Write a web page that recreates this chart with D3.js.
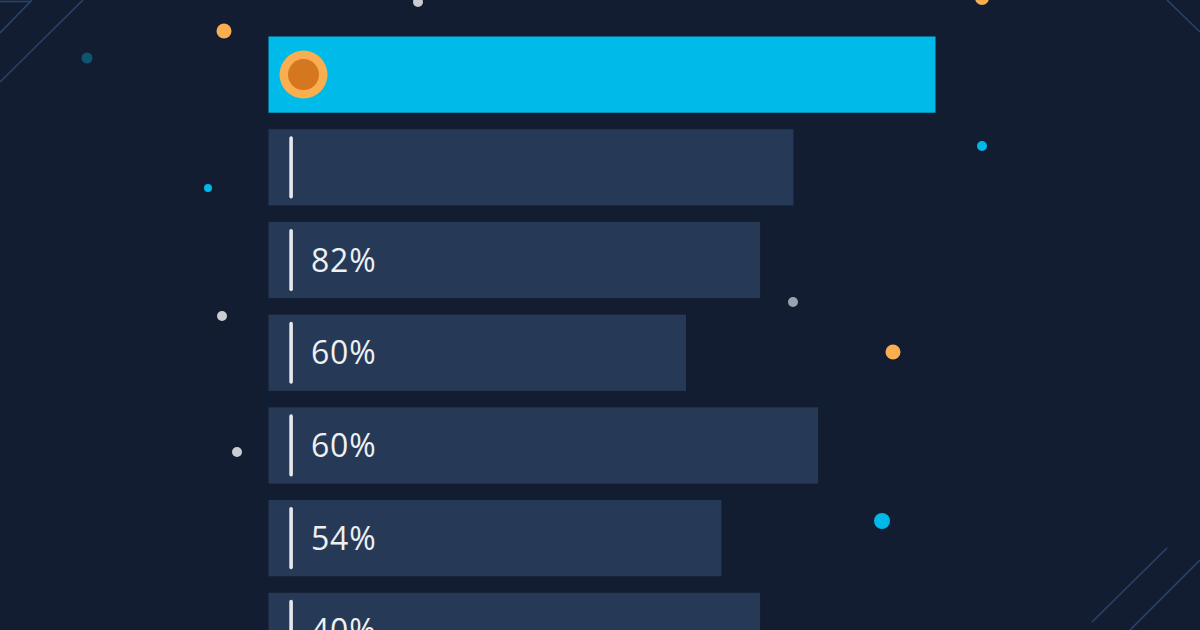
<!DOCTYPE html>
<html>
<head>
<meta charset="utf-8">
<script src="https://cdn.jsdelivr.net/npm/d3@7"></script>
<style>
  html, body { margin: 0; padding: 0; background: #131d31; }
  svg { display: block; }
</style>
</head>
<body>
<div id="chart"></div>
<script>
// bar rows, top to bottom
const ROWS   = ['r1', 'r2', 'r3', 'r4', 'r5', 'r6', 'r7'];
const VALUES = [100, 78.7, 73.7, 62.6, 82.4, 67.9, 73.7];
const LABELS = ['', '', '82%', '60%', '60%', '54%', '40%'];

// decorative dots
const DOT_X = [224, 87, 208, 418, 982, 982, 793, 222, 893, 237, 882];
const DOT_Y = [31, 58, 188, 2, -2, 146, 302, 316, 352, 452, 521];
const DOT_R = [7.5, 5.5, 4, 5, 7, 5, 5, 5, 7.5, 5, 8];
const DOT_C = ['#f9ae50', '#0f5572', '#00b8e8', '#c9ccd1', '#f9ae50', '#00b8e8',
               '#9aa3ad', '#c9ccd1', '#f9ae50', '#c9ccd1', '#00b8e8'];

const W = 1200, H = 630;
const COLORS = { bg: '#131d31', bar: '#263a57', top: '#00bbe9', tick: '#e6e8eb', text: '#eef0f2' };

const svg = d3.select('#chart').append('svg')
    .attr('width', W).attr('height', H);

svg.append('rect').attr('width', W).attr('height', H).attr('fill', COLORS.bg);

// corner streaks
const streaks = [
    [[0, 82], [83, 0]],
    [[0, 33], [32, 0]],
    [[0, 1.5], [30, 1.5]],
    [[1167, 0], [1200, 32]],
    [[1167, 548], [1092, 622]],
    [[1200, 560], [1130, 630]],
];
svg.append('g').selectAll('line')
    .data(streaks)
    .join('line')
    .attr('x1', d => d[0][0]).attr('y1', d => d[0][1])
    .attr('x2', d => d[1][0]).attr('y2', d => d[1][1])
    .attr('stroke', '#29436a').attr('stroke-width', 1.6);

svg.append('g').selectAll('circle')
    .data(DOT_X.map((x, i) => ({ x, y: DOT_Y[i], r: DOT_R[i], c: DOT_C[i] })))
    .join('circle')
    .attr('cx', d => d.x).attr('cy', d => d.y).attr('r', d => d.r)
    .attr('fill', d => d.c);

const x = d3.scaleLinear().domain([0, 100]).range([268.5, 935.5]);
const y = d3.scaleBand().domain(ROWS).range([36.5, 669]).paddingInner(0.178).paddingOuter(0);
const bh = y.bandwidth();

const rows = svg.append('g').selectAll('g')
    .data(ROWS.map((k, i) => ({ k, v: VALUES[i], label: LABELS[i], i })))
    .join('g')
    .attr('transform', d => `translate(0,${y(d.k)})`);

rows.append('rect')
    .attr('x', x(0))
    .attr('width', d => x(d.v) - x(0))
    .attr('height', bh)
    .attr('fill', d => d.i === 0 ? COLORS.top : COLORS.bar);

// first row gets the orange marker, the rest a white tick
rows.filter(d => d.i > 0).append('rect')
    .attr('x', 289.3).attr('y', 7)
    .attr('width', 3.6).attr('height', bh - 14)
    .attr('rx', 1.8)
    .attr('fill', COLORS.tick);

const marker = rows.filter(d => d.i === 0);
marker.append('circle')
    .attr('cx', 303.5).attr('cy', bh / 2)
    .attr('r', 24).attr('fill', '#f9ae50');
marker.append('circle')
    .attr('cx', 303.5).attr('cy', bh / 2)
    .attr('r', 15.5).attr('fill', '#d57620');

rows.append('text')
    .attr('x', 311)
    .attr('y', bh / 2 + 11.5)
    .attr('fill', COLORS.text)
    .style('font-family', '"Open Sans", sans-serif')
    .style('font-size', '32px')
    .style('letter-spacing', '0.8px')
    .text(d => d.label);
</script>
</body>
</html>
